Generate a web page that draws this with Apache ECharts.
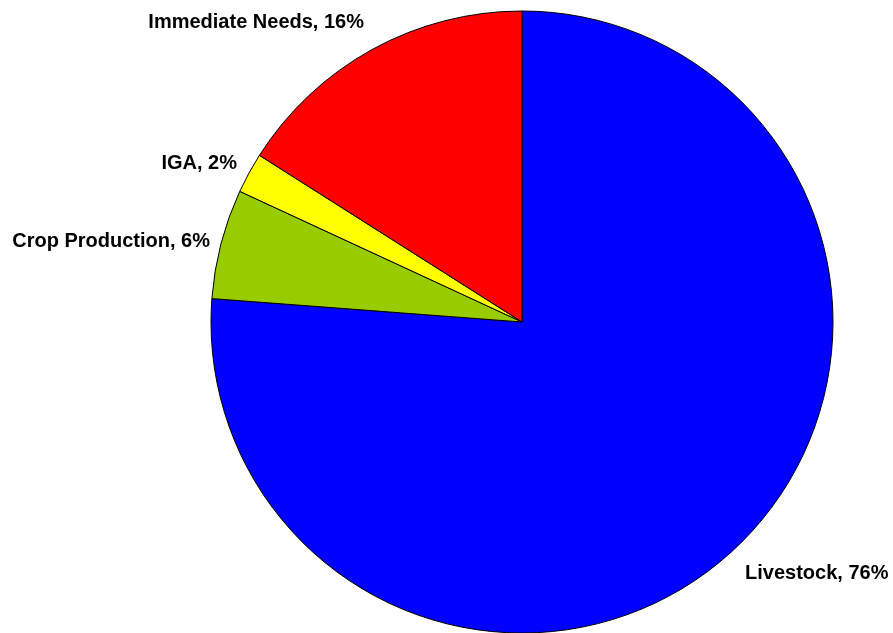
<!DOCTYPE html>
<html><head><meta charset="utf-8">
<script src="https://cdn.jsdelivr.net/npm/echarts@6/dist/echarts.min.js"></script>
<style>html,body{margin:0;padding:0;background:#fff}#c{width:893px;height:633px}</style>
</head><body><div id="c"></div>
<script>
const categories = ['Livestock', 'Crop Production', 'IGA', 'Immediate Needs'];
const values = [76.2, 5.7, 2.1, 16.0];
const colors = ['#0000FF', '#99CC00', '#FFFF00', '#FF0000'];

const labelSpots = [
  {x: 745, y: 573, align: 'left'},
  {x: 210, y: 241, align: 'right'},
  {x: 237, y: 163, align: 'right'},
  {x: 364, y: 22, align: 'right'}
];

const chart = echarts.init(document.getElementById('c'));
chart.setOption({
  animation: false,
  series: [{
    type: 'pie',
    center: [522, 322],
    radius: 311,
    startAngle: 90,
    clockwise: true,
    percentPrecision: 0,
    data: categories.map((n, i) => ({name: n, value: values[i], itemStyle: {color: colors[i]}})),
    itemStyle: {borderColor: '#000', borderWidth: 1},
    label: {
      show: true, position: 'outside', formatter: '{b}, {d}%',
      fontFamily: 'Liberation Sans, Arial, sans-serif', fontWeight: 'bold', fontSize: 20, color: '#000',
      overflow: 'none', width: 300
    },
    labelLine: {show: false},
    labelLayout: function (p) {
      const s = labelSpots[p.dataIndex];
      return {x: s.x, y: s.y, align: s.align, verticalAlign: 'middle', hideOverlap: false, moveOverlap: false};
    },
    emphasis: {disabled: true}
  }]
});
</script></body></html>
